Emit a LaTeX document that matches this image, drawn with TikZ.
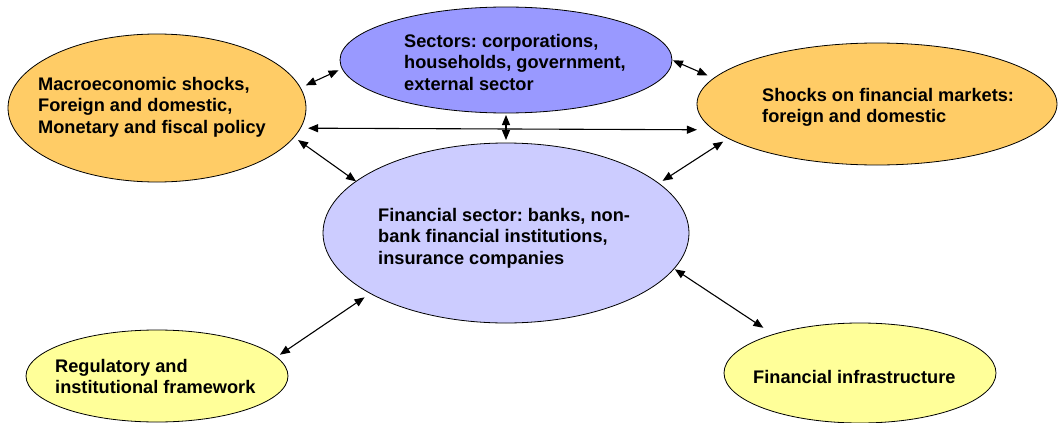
\documentclass[tikz,border=0pt]{standalone}
\usepackage{fontspec}
\setmainfont{Liberation Sans}
\usetikzlibrary{arrows.meta,shapes.geometric}
\definecolor{orangeF}{HTML}{FFCC66}
\definecolor{violetF}{HTML}{9999FF}
\definecolor{lavF}{HTML}{CCCCFF}
\definecolor{yellowF}{HTML}{FFFF99}
\frenchspacing
\newcommand{\lines}[1]{\vtop{\halign{##\hfil\cr#1\crcr}}}
\begin{document}
\begin{tikzpicture}[x=1pt,y=-1pt,
  blob/.style={ellipse,draw=black,line width=0.8pt,inner sep=0pt,outer sep=0pt},
  txt/.style={inner sep=0pt,anchor=base west,font=\bfseries\fontsize{18.2}{21.5}\selectfont},
  dbl/.style={line width=1.1pt,{Triangle[length=10pt,width=8pt]}-{Triangle[length=10pt,width=8pt]}}]
\useasboundingbox (0,0) rectangle (1058,423);
% ellipses
\node[blob,fill=orangeF,minimum width=298pt,minimum height=148pt] (M) at (157,108) {};
\node[blob,fill=violetF,minimum width=332pt,minimum height=106pt] (S) at (506,60) {};
\node[blob,fill=orangeF,minimum width=360pt,minimum height=122pt] (K) at (877,104) {};
\node[blob,fill=lavF,minimum width=366pt,minimum height=180pt] (F) at (506,233) {};
\node[blob,fill=yellowF,minimum width=262pt,minimum height=92pt] (R) at (157,376) {};
\node[blob,fill=yellowF,minimum width=272pt,minimum height=100pt] (I) at (860,373) {};
% texts
\node[txt] (tM) at (38,90) {\lines{Macroeconomic shocks,\cr Foreign and domestic,\cr Monetary and fiscal policy}};
\node[txt] (tS) at (404,47) {\lines{Sectors: corporations,\cr households, government,\cr external sector}};
\node[txt] (tK) at (762,101) {\lines{Shocks on financial markets:\cr foreign and domestic}};
\node[txt] (tF) at (378,221) {\lines{Financial sector: banks, non-\cr bank financial institutions,\cr insurance companies}};
\node[txt] (tR) at (55,372) {\lines{Regulatory and\cr institutional framework}};
\node[txt] (tI) at (753,383) {Financial infrastructure};
% connectors
\draw[dbl,shorten <=6pt,shorten >=4pt] (M.8.4) -- (S.183.4);
\draw[dbl,shorten <=1pt,shorten >=7pt] (S.-0.3) -- (K.171);
\draw[dbl,shorten <=7.7pt,shorten >=17pt] (M.-8.79) -- (K.189.07);
\draw[dbl,shorten <=2pt,shorten >=3pt] (S.south) -- (F.north);
\draw[dbl,shorten <=5pt,shorten >=0pt] (M.-12.4) -- (F.161.1);
\draw[dbl,shorten <=6pt,shorten >=4.6pt] (K.193.2) -- (F.18);
\draw[dbl,shorten <=7pt,shorten >=4.2pt] (F.204.4) -- (R.9.24);
\draw[dbl,shorten <=1pt,shorten >=12pt] (F.-12.8) -- (I.156.9);
\end{tikzpicture}
\end{document}
